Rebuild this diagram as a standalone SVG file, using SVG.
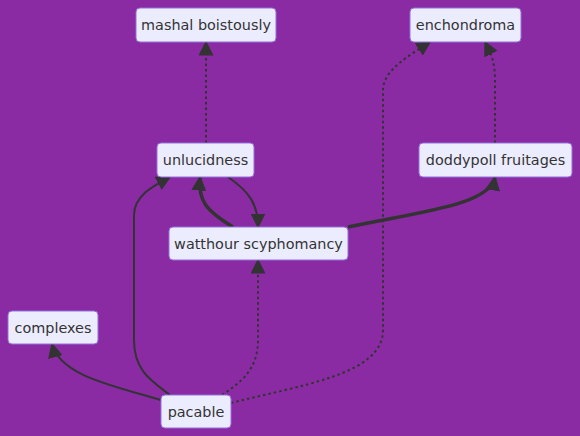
<svg xmlns="http://www.w3.org/2000/svg" width="580" height="436" viewBox="0 0 580 436">
<style>
.node rect{fill:#ECECFF;stroke:#9370DB;stroke-width:1}
.node text{font-family:"DejaVu Sans",sans-serif;font-size:14.4px;fill:#333;text-anchor:middle;dominant-baseline:central}
.e{fill:none;stroke:#333;stroke-width:2}
.thick{stroke-width:3.5}
.dot{stroke-dasharray:2.5 3}
</style>
<defs>
<marker id="arrT" viewBox="0 0 10 10" refX="9" refY="5" markerWidth="15" markerHeight="15" markerUnits="userSpaceOnUse" orient="auto">
<path d="M0,0L10,5L0,10z" fill="#333"/>
</marker>
</defs>
<rect width="580" height="436" fill="#8A2BA4"/>
<g id="edges">
<path class="e dot" d="M206,143V42" marker-end="url(#arrT)"/>
<path class="e dot" d="M231,403C300,385 383,375 383,330V90C383,70 410,55 430,42" marker-end="url(#arrT)"/>
<path class="e dot" d="M495,143V80C495,60 490,52 485,42" marker-end="url(#arrT)"/>
<path class="e thick" d="M233,227C205,210 198,200 200,177" marker-end="url(#arrT)"/>
<path class="e" d="M228,177C250,192 258,205 258,227" marker-end="url(#arrT)"/>
<path class="e thick" d="M348,227C420,212 490,205 495,177" marker-end="url(#arrT)"/>
<path class="e" d="M170,395C150,380 134,370 134,340V215C134,195 155,185 170,177" marker-end="url(#arrT)"/>
<path class="e dot" d="M222,395C240,383 258,370 258,340V260" marker-end="url(#arrT)"/>
<path class="e" d="M161,400C110,385 60,375 52,344" marker-end="url(#arrT)"/>
</g>
<g id="n1" class="node"><rect x="136" y="8" width="140" height="34" rx="4"/><text x="206" y="25">mashal boistously</text></g>
<g id="n2" class="node"><rect x="410" y="8" width="111" height="34" rx="4"/><text x="465.5" y="25">enchondroma</text></g>
<g id="n3" class="node"><rect x="157" y="143" width="97" height="34" rx="4"/><text x="205.5" y="160">unlucidness</text></g>
<g id="n4" class="node"><rect x="419" y="143" width="153" height="34" rx="4"/><text x="495.5" y="160">doddypoll fruitages</text></g>
<g id="n5" class="node"><rect x="169" y="227" width="179" height="33" rx="4"/><text x="258.5" y="243.5">watthour scyphomancy</text></g>
<g id="n6" class="node"><rect x="8" y="311" width="90" height="33" rx="4"/><text x="53" y="327.5">complexes</text></g>
<g id="n7" class="node"><rect x="161" y="395" width="70" height="33" rx="4"/><text x="196" y="411.5">pacable</text></g>
</svg>
